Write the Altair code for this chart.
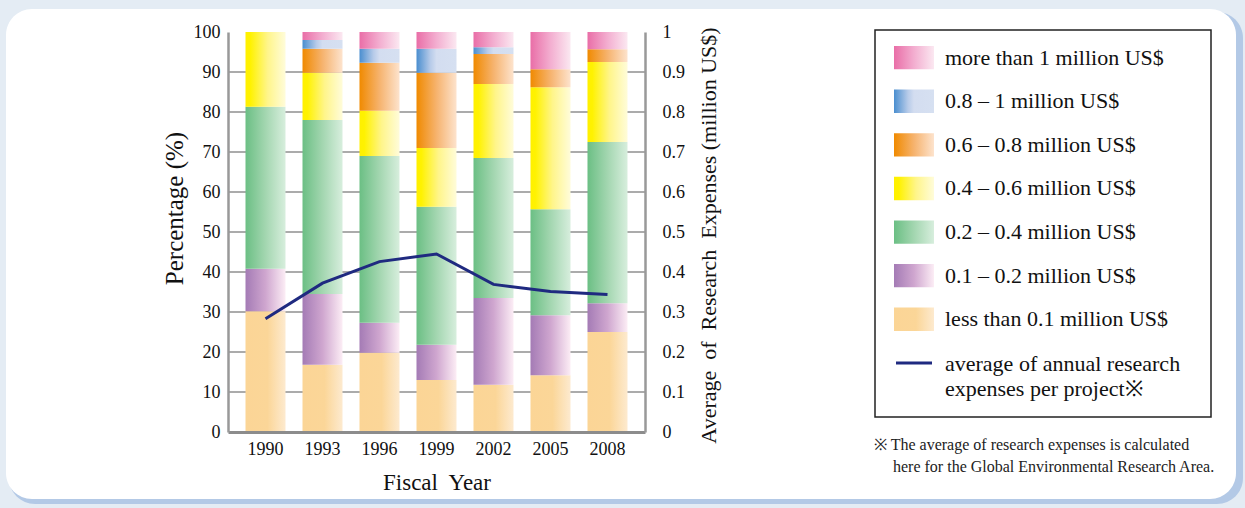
import altair as alt
import pandas as pd

# ---------------- data ----------------
years = ["1990", "1993", "1996", "1999", "2002", "2005", "2008"]
categories = [
    "less than 0.1 million US$",
    "0.1 – 0.2 million US$",
    "0.2 – 0.4 million US$",
    "0.4 – 0.6 million US$",
    "0.6 – 0.8 million US$",
    "0.8 – 1 million US$",
    "more than 1 million US$",
]
less_01 = [30.2, 16.8, 19.8, 13.0, 11.8, 14.2, 25.0]
r01_02 = [10.6, 17.7, 7.5, 8.8, 21.7, 15.0, 7.2]
r02_04 = [40.5, 43.5, 41.7, 34.5, 35.0, 26.5, 40.3]
r04_06 = [18.7, 11.8, 11.3, 14.7, 18.5, 30.5, 20.0]
r06_08 = [0.0, 6.0, 12.0, 18.8, 7.5, 4.5, 3.2]
r08_1 = [0.0, 2.2, 3.5, 6.0, 1.7, 0.0, 0.0]
more_1 = [0.0, 2.0, 4.2, 4.2, 3.8, 9.3, 4.3]
avg_expense = [0.283, 0.372, 0.426, 0.445, 0.369, 0.351, 0.344]

percent_ticks = [0, 10, 20, 30, 40, 50, 60, 70, 80, 90, 100]
grid_ticks = [10, 20, 30, 40, 50, 60, 70, 80, 90]
avg_ticks = [0, 0.1, 0.2, 0.3, 0.4, 0.5, 0.6, 0.7, 0.8, 0.9, 1]

line_label = ["average of annual research", "expenses per project※"]
footnote = ["※ The average of research expenses is calculated",
            "here for the Global Environmental Research Area."]

# ---------------- styles ----------------
FONT = "Liberation Serif"
gradients = {
    categories[0]: [(0, "#fbd596"), (0.55, "#fbd698"), (1, "#fdeacf")],
    categories[1]: [(0, "#a47bb5"), (0.5, "#cfa6cf"), (1, "#fcedf5")],
    categories[2]: [(0, "#6bbf84"), (0.5, "#a3d6b0"), (1, "#d7eedd")],
    categories[3]: [(0, "#fff000"), (0.12, "#fff200"), (0.55, "#fff58a"), (1, "#fffcda")],
    categories[4]: [(0, "#f08a00"), (0.5, "#f6b36e"), (1, "#fde3cd")],
    categories[5]: [(0, "#4a8ecf"), (0.35, "#b7cbe9"), (0.5, "#d3ddf0"), (1, "#d6e0f1")],
    categories[6]: [(0, "#e96ea7"), (0.5, "#f3aed0"), (1, "#fbe8f1")],
}
LINE_COLOR = "#1f2a80"
TXT = "#111111"


def grad(stops):
    return alt.LinearGradient(
        gradient="linear",
        stops=[alt.GradientStop(color=c, offset=o) for o, c in stops],
        x1=0, x2=1, y1=0, y2=0,
    )


# ---------------- tables ----------------
series = [less_01, r01_02, r02_04, r04_06, r06_08, r08_1, more_1]
rows = []
for i, yr in enumerate(years):
    cum = 0.0
    for cat, vals in zip(categories, series):
        v = vals[i]
        if v > 0:
            rows.append({"year": yr, "cat": cat, "y0": cum, "y1": cum + v})
        cum += v
bars_df = pd.DataFrame(rows)
line_df = pd.DataFrame({"year": years, "avg": avg_expense})
grid_df = pd.DataFrame({"v": grid_ticks})

legend_cats = categories[::-1]
legend_df = pd.DataFrame({"cat": legend_cats, "idx": list(range(len(legend_cats)))})
legend_line_df = pd.DataFrame({"idx": [len(legend_cats)], "l1": [line_label[0]], "l2": [line_label[1]]})

# ---------------- main chart ----------------
x_enc = alt.X(
    "year:O",
    sort=years,
    scale=alt.Scale(paddingInner=0.298, paddingOuter=0.307),
    axis=alt.Axis(
        title="Fiscal\u00a0 Year", labelAngle=0, ticks=False, labelPadding=8,
        labelFontSize=18, titleFontSize=23, titlePadding=13,
        labelFont=FONT, titleFont=FONT, labelColor=TXT, titleColor=TXT,
        titleFontWeight="normal", domainColor="#8c8c8c", domainWidth=3,
        zindex=1,
    ),
)
y_scale = alt.Scale(domain=[0, 100], nice=False)
y_axis = alt.Axis(
    title="Percentage (%)", orient="left", values=percent_ticks,
    ticks=False, labelPadding=8, labelFontSize=18, titleFontSize=25,
    titlePadding=6, titleY=176, labelFont=FONT, titleFont=FONT, labelColor=TXT,
    titleColor=TXT, titleFontWeight="normal", grid=False,
    domainColor="#999999", domainWidth=2.5, zindex=1,
)

gridlines = (
    alt.Chart(grid_df)
    .mark_rule(color="#ababab", strokeWidth=2)
    .encode(y=alt.Y("v:Q", scale=y_scale, axis=y_axis))
)

bar_layers = []
for cat in categories:
    bar_layers.append(
        alt.Chart(bars_df)
        .transform_filter(alt.datum.cat == cat)
        .mark_bar(fill=grad(gradients[cat]), stroke=None)
        .encode(x=x_enc, y=alt.Y("y0:Q", scale=y_scale, axis=y_axis), y2="y1:Q")
    )
bars = alt.layer(gridlines, *bar_layers)

line = (
    alt.Chart(line_df)
    .mark_line(color=LINE_COLOR, strokeWidth=3)
    .encode(
        x=x_enc,
        y=alt.Y(
            "avg:Q",
            scale=alt.Scale(domain=[0, 1], nice=False),
            axis=alt.Axis(
                title="Average\u00a0 of\u00a0 Research\u00a0 Expenses (million US$)",
                orient="right", values=avg_ticks,
                format="~g", ticks=False, grid=False, labelPadding=17,
                labelFontSize=18, titleFontSize=22, titlePadding=14,
                titleAngle=270, titleBaseline="top", titleY=203,
                labelFont=FONT, titleFont=FONT, labelColor=TXT, titleColor=TXT,
                titleFontWeight="normal", domainColor="#999999", domainWidth=2.5,
                zindex=1,
            ),
        ),
    )
)

# ---------------- legend ----------------
LFS = 22
ly = alt.Scale(domain=[-0.589, 8.585], reverse=True, nice=False, zero=False)
legend_layers = []
for cat in legend_cats:
    legend_layers.append(
        alt.Chart(legend_df)
        .transform_filter(alt.datum.cat == cat)
        .transform_calculate(s0="datum.idx - 0.268", s1="datum.idx + 0.268")
        .mark_rect(fill=grad(gradients[cat]))
        .encode(
            x=alt.value(666), x2=alt.value(706),
            y=alt.Y("s0:Q", scale=ly, axis=None), y2="s1:Q",
        )
    )
legend_text = (
    alt.Chart(legend_df)
    .mark_text(align="left", baseline="middle", font=FONT, fontSize=LFS, color=TXT)
    .encode(x=alt.value(717), y=alt.Y("idx:Q", scale=ly, axis=None), text="cat:N")
)
legend_rule = (
    alt.Chart(legend_line_df)
    .mark_rule(color=LINE_COLOR, strokeWidth=3)
    .encode(x=alt.value(668), x2=alt.value(704), y=alt.Y("idx:Q", scale=ly, axis=None))
)
legend_l1 = (
    alt.Chart(legend_line_df)
    .mark_text(align="left", baseline="middle", font=FONT, fontSize=LFS, color=TXT, dy=1)
    .encode(x=alt.value(717), y=alt.Y("idx:Q", scale=ly, axis=None), text="l1:N")
)
legend_l2 = (
    alt.Chart(legend_line_df)
    .mark_text(align="left", baseline="middle", font=FONT, fontSize=LFS, color=TXT, dy=26)
    .encode(x=alt.value(717), y=alt.Y("idx:Q", scale=ly, axis=None), text="l2:N")
)
legend = alt.layer(*legend_layers, legend_text, legend_rule, legend_l1, legend_l2)

one = pd.DataFrame({"a": [0]})
legend_box = alt.Chart(one).mark_rect(fill="white", stroke="#222222", strokeWidth=1.5).encode(
    x=alt.value(647), x2=alt.value(983), y=alt.value(-2), y2=alt.value(385)
)
foot1 = alt.Chart(one).mark_text(align="left", baseline="middle", font=FONT, fontSize=16, color="#222").encode(
    x=alt.value(646), y=alt.value(413), text=alt.value(footnote[0])
)
foot2 = alt.Chart(one).mark_text(align="left", baseline="middle", font=FONT, fontSize=16, color="#222").encode(
    x=alt.value(665), y=alt.value(435), text=alt.value(footnote[1])
)

# ---------------- panel background ----------------
shadow = alt.Chart(one).mark_rect(fill="#b3c9e6", cornerRadius=26, strokeWidth=0).encode(
    x=alt.value(-219), x2=alt.value(1015), y=alt.value(-20), y2=alt.value(472)
)
panel = alt.Chart(one).mark_rect(fill="white", cornerRadius=26, strokeWidth=0).encode(
    x=alt.value(-222), x2=alt.value(1008), y=alt.value(-23), y2=alt.value(467)
)

chart = (
    alt.layer(shadow, panel, legend_box, bars, line, legend, foot1, foot2)
    .resolve_scale(y="independent")
    .properties(
        width=417, height=400,
        padding={"left": 6, "top": 9, "right": 2, "bottom": 4},
        background="#e4ecf4",
    )
    .configure_view(stroke=None)
    .configure(font=FONT)
)

chart.save("out.html", embed_options={"renderer": "svg", "actions": False})
